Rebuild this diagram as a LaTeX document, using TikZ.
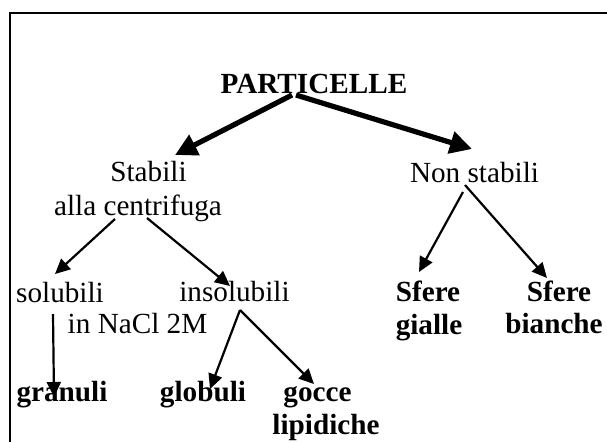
\documentclass[tikz,border=0pt]{standalone}
\usepackage{fontspec}
\setmainfont{Liberation Serif}
\usetikzlibrary{arrows.meta,calc}
\begin{document}
\begin{tikzpicture}[x=0.5pt,y=-0.5pt,
  lbl/.style={anchor=base,inner sep=0pt,font=\fontsize{14.6}{16.5}\selectfont},
  blbl/.style={anchor=base,inner sep=0pt,font=\fontsize{14.6}{16.5}\selectfont\bfseries},
  thinarrow/.style={line width=1.1pt,-{Triangle[length=7.5pt,width=7pt]}},
  thickarrow/.style={line width=2.6pt,-{Triangle[length=11pt,width=11pt]}}]
\useasboundingbox (0,0) rectangle (607,441);
\draw[line width=1pt] (10,470) -- (10,12.5) -- (640,12.5);
% nodes
\node[blbl] (part)  at (314,93)   {PARTICELLE};
\node[lbl]  (stab)  at (148.5,181) {Stabili};
\node[lbl]  (stabb) at (138,215)  {alla centrifuga};
\node[lbl]  (nons)  at (474.5,182) {Non stabili};
\node[lbl]  (sol)   at (60,302)   {solubili};
\node[lbl]  (insol) at (234.5,301) {insolubili};
\node[lbl]  (nacl)  at (137.5,333) {in NaCl 2M};
\node[blbl] (gran)  at (62,401)   {granuli};
\node[blbl] (glob)  at (203,401)  {globuli};
\node[blbl] (gocce) at (317.5,401) {gocce};
\node[blbl] (lipid) at (326,434)  {lipidiche};
\node[blbl] (sg)    at (428,301)  {Sfere};
\node[blbl] (sg2)   at (429,334)  {gialle};
\node[blbl] (sb)    at (559,301)  {Sfere};
\node[blbl] (sb2)   at (554,333)  {bianche};
% connectors
\draw[thickarrow] ($(part.base)+(-22,2)$) -- ($(stab.base)+(26.5,-26)$);
\draw[thickarrow] ($(part.base)+(-18,2)$) -- ($(nons.base)+(-2.5,-33)$);
\draw[thinarrow] ($(stabb.base)+(-23,4)$) -- ($(sol.base)+(-5,-28)$);
\draw[thinarrow] ($(stabb.base)+(9,3)$) -- ($(insol.base)+(-4.5,-15)$);
\draw[thinarrow] ($(nons.base)+(-11.5,10)$) -- ($(sg.base)+(-9,-29)$);
\draw[thinarrow] ($(nons.base)+(-9.5,3)$) -- ($(sb.base)+(-12,-23)$);
\draw[thinarrow] ($(sol.base)+(-7,12)$) -- ($(gran.base)+(-8,-4)$);
\draw[thinarrow] ($(insol.base)+(5.5,9)$) -- ($(glob.base)+(7,-12)$);
\draw[thinarrow] ($(insol.base)+(5.5,9)$) -- ($(gocce.base)+(-3.5,-17)$);
\end{tikzpicture}
\end{document}
